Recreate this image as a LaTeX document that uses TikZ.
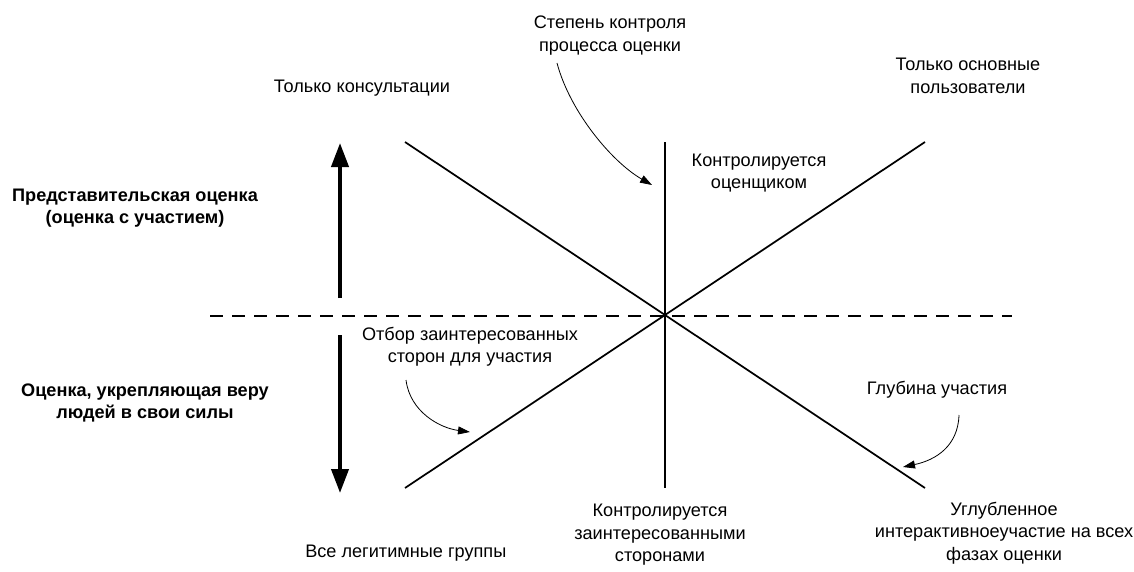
\documentclass[tikz,border=0pt]{standalone}
\usepackage{fontspec}
\setmainfont{Liberation Sans}
\usetikzlibrary{arrows.meta}

\begin{document}
\begin{tikzpicture}[x=0.75pt,y=-0.75pt,
	lbl/.style={align=center,inner sep=0pt,font=\fontsize{13.6}{16.8}\selectfont},
	side/.style={align=center,inner sep=0pt,font=\fontsize{13.6}{16.5}\selectfont\bfseries},
	axis/.style={line width=1.3pt},
	bigarrow/.style={line width=3pt,-{Triangle[length=18pt,width=12.75pt]}},
	pointer/.style={line width=0.6pt,-{Triangle[length=9pt,width=6pt]}}]
	\useasboundingbox (0,0) rectangle (1134,571);
	% crossing point and line ends
	\coordinate (c) at (665,316);
	\coordinate (vtop) at (665,142);
	\coordinate (vbot) at (665,488);
	\coordinate (tl) at (405,142);
	\coordinate (br) at (925,488);
	\coordinate (bl) at (405,488);
	\coordinate (tr) at (925,142);
	\coordinate (dl) at (210,316);
	\coordinate (dr) at (1012,316);
	\draw[line width=1.1pt,dash pattern=on 9.75pt off 6.75pt] (dl) -- (dr);
	\draw[axis] (vtop) -- (vbot);
	\draw[axis] (tl) -- (br);
	\draw[axis] (bl) -- (tr);
	% big arrows on the left
	\coordinate (upfrom) at (340,298);
	\coordinate (upto) at (340,143);
	\coordinate (downfrom) at (340,335);
	\coordinate (downto) at (340,493);
	\draw[bigarrow] (upfrom) -- (upto);
	\draw[bigarrow] (downfrom) -- (downto);
	\node[side] (repr) at (135,208.5) {Представительская оценка\\(оценка с участием)};
	\node[side] (empow) at (145,402.5) {Оценка, укрепляющая веру\\людей в свои силы};
	% labels at the line ends
	\node[lbl] (consult) at (362,88) {Только консультации};
	\node[lbl] (users) at (968,76) {Только основные\\пользователи};
	\node[lbl,anchor=west] (allgroups) at (305,553) {Все легитимные группы};
	\node[lbl] (bystake) at (660,535) {Контролируется\\заинтересованными\\сторонами};
	\node[lbl] (deep) at (1004,533) {Углубленное\\интерактивноеучастие на всех\\фазах оценки};
	\node[lbl] (byeval) at (759,173) {Контролируется\\оценщиком};
	% labels with pointers
	\node[lbl] (control) at (610,35.5) {Степень контроля\\процесса оценки};
	\node[lbl] (select) at (470,347) {Отбор заинтересованных\\сторон для участия};
	\node[lbl] (depth) at (937,390) {Глубина участия};
	\coordinate (p1a) at (557,63);
	\coordinate (p1b) at (652,185);
	\coordinate (p2a) at (406,380);
	\coordinate (p2b) at (470,432);
	\coordinate (p3a) at (959,415);
	\coordinate (p3b) at (903,467);
	\draw[pointer] (p1a) .. controls (570,112) and (612,162) .. (p1b);
	\draw[pointer] (p2a) .. controls (410,412) and (440,428) .. (p2b);
	\draw[pointer] (p3a) .. controls (958,446) and (936,460) .. (p3b);
\end{tikzpicture}
\end{document}
